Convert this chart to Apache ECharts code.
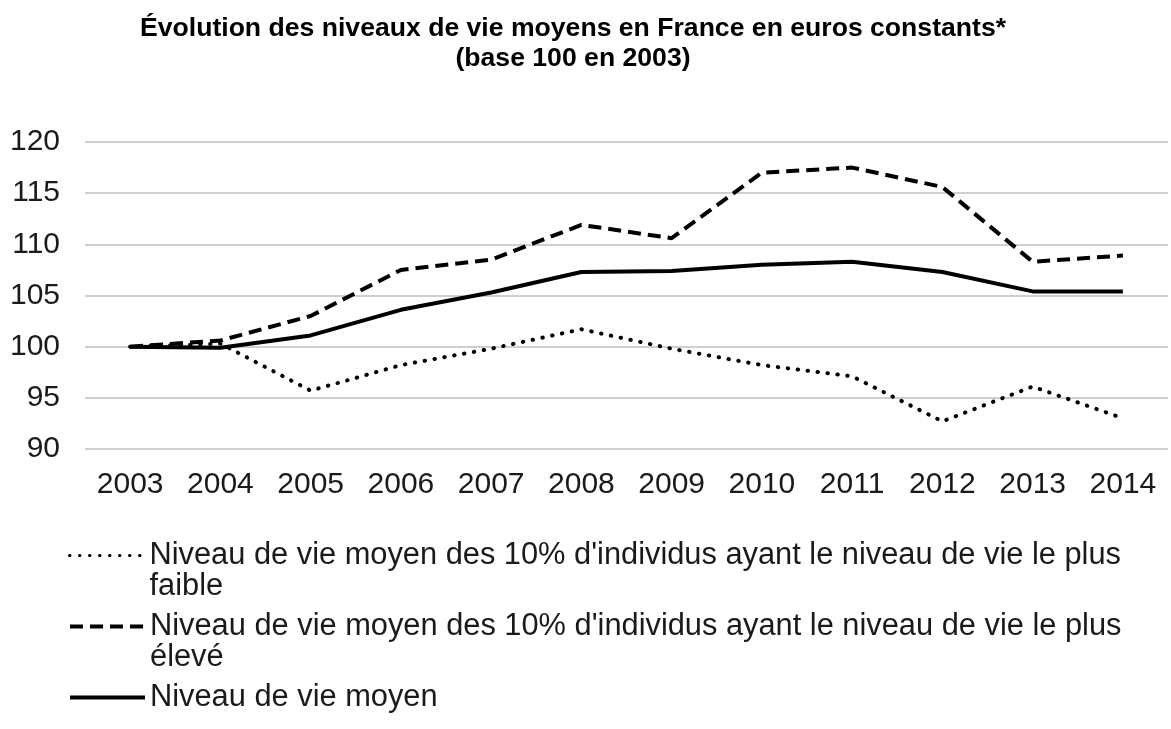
<!DOCTYPE html>
<html>
<head>
<meta charset="utf-8">
<script src="https://cdn.jsdelivr.net/npm/echarts@6/dist/echarts.min.js"></script>
<style>
    html, body { margin: 0; padding: 0; background: #fff; }
    #chart { width: 1171px; height: 729px; }
</style>
</head>
<body>
<div id="chart"></div>
<script>
const years = ["2003", "2004", "2005", "2006", "2007", "2008", "2009", "2010", "2011", "2012", "2013", "2014"];
const yTicks = { min: 90, max: 120, interval: 5 };

const lowName = "Niveau de vie moyen des 10% d'individus ayant le niveau de vie le plus faible";
const highName = "Niveau de vie moyen des 10% d'individus ayant le niveau de vie le plus élevé";
const meanName = "Niveau de vie moyen";

// base 100 en 2003
const lowValues = [100, 100.3, 95.7, 98.2, 99.8, 101.7, 99.8, 98.2, 97.1, 92.7, 96.1, 93.0];
const highValues = [100, 100.6, 103.0, 107.5, 108.5, 111.9, 110.6, 117.0, 117.5, 115.6, 108.3, 108.9];
const meanValues = [100, 99.9, 101.1, 103.6, 105.3, 107.3, 107.4, 108.0, 108.3, 107.3, 105.4, 105.4];

const font = "Liberation Sans, Arial, sans-serif";

// one legend per entry so each can sit at its own height
function legendFor(name, top, lineWidth) {
    return {
        orient: "vertical",
        left: 68,
        top: top,
        padding: 0,
        itemWidth: 75,
        itemHeight: 20,
        selectedMode: false,
        itemStyle: { opacity: 0 },
        lineStyle: { width: lineWidth },
        formatter: function (n) {
            // wrapped names get a blank first line so the text block centres on line one
            if (n.indexOf(" le plus ") < 0) return n;
            return " \n" + n.replace(" le plus ", " le plus\n");
        },
        textStyle: {
            fontFamily: font,
            fontSize: 30.8,
            color: "#1a1a1a",
            lineHeight: 31
        },
        data: [name]
    };
}

const chart = echarts.init(document.getElementById("chart"));

chart.setOption({
    animation: false,
    title: {
        text: "Évolution des niveaux de vie moyens en France en euros constants*\n(base 100 en 2003)",
        left: 568,
        top: 9,
        textAlign: "center",
        textStyle: {
            fontFamily: font,
            fontSize: 26.6,
            fontWeight: "bold",
            color: "#000",
            lineHeight: 30
        }
    },
    grid: {
        left: 85,
        right: 3,
        top: 142,
        bottom: 280
    },
    legend: [
        legendFor(lowName, 509, 3),
        legendFor(highName, 580, 4),
        legendFor(meanName, 682, 4)
    ],
    xAxis: {
        type: "category",
        data: years,
        boundaryGap: true,
        axisLine: { show: false },
        axisTick: { show: false },
        axisLabel: {
            fontFamily: font,
            fontSize: 30,
            color: "#1a1a1a",
            margin: 21
        }
    },
    yAxis: {
        type: "value",
        min: yTicks.min,
        max: yTicks.max,
        interval: yTicks.interval,
        axisLine: { show: false },
        axisTick: { show: false },
        axisLabel: {
            fontFamily: font,
            fontSize: 30,
            color: "#1a1a1a",
            margin: 25
        },
        splitLine: {
            lineStyle: { color: "#bfbfbf", width: 1.5 }
        }
    },
    series: [
        {
            name: lowName,
            type: "line",
            data: lowValues,
            symbol: "none",
            color: "#000",
            lineStyle: { color: "#000", width: 4, type: [0.5, 9.5], cap: "round" }
        },
        {
            name: highName,
            type: "line",
            data: highValues,
            symbol: "none",
            color: "#000",
            lineStyle: { color: "#000", width: 4, type: [13, 7] }
        },
        {
            name: meanName,
            type: "line",
            data: meanValues,
            symbol: "none",
            color: "#000",
            lineStyle: { color: "#000", width: 4 }
        }
    ]
});
</script>
</body>
</html>
